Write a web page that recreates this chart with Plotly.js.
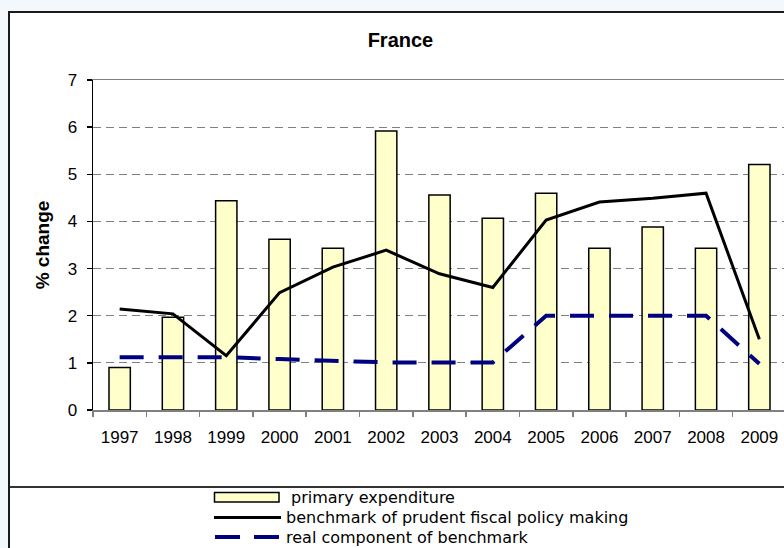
<!DOCTYPE html>
<html>
<head>
<meta charset="utf-8">
<script src="https://cdn.plot.ly/plotly-3.0.1.min.js"></script>
<style>
  html, body { margin: 0; padding: 0; width: 784px; height: 548px; overflow: hidden; background: #f3f8fd; }
  #frame { position: absolute; left: 8px; top: 11px; width: 800px; height: 560px;
           border-left: 2px solid #1a1a1a; border-top: 2px solid #1a1a1a; background: #ffffff; }
  #chart { position: absolute; left: 0; top: 0; }
  #divider { position: absolute; left: 0; top: 473px; width: 800px; border-top: 2px solid #333333; }
</style>
</head>
<body>
<div id="frame">
  <div id="chart"></div>
  <div id="divider"></div>
</div>
<script>
const years = ["1997","1998","1999","2000","2001","2002","2003","2004","2005","2006","2007","2008","2009"];
const primaryExpenditure = [0.90, 1.97, 4.44, 3.62, 3.43, 5.92, 4.56, 4.07, 4.60, 3.43, 3.88, 3.43, 5.21];
const benchmark = [2.14, 2.04, 1.15, 2.49, 3.03, 3.39, 2.89, 2.60, 4.03, 4.41, 4.49, 4.60, 1.50];
const realComponent = [1.12, 1.12, 1.12, 1.08, 1.04, 1.01, 1.01, 1.01, 2.00, 2.00, 2.00, 2.00, 0.98];
const yTicks = [0, 1, 2, 3, 4, 5, 6, 7];
const seriesNames = ["primary expenditure", "benchmark of prudent fiscal policy making", "real component of benchmark"];

const FONT = '"Liberation Sans", Arial, sans-serif';
const LEGFONT = '"DejaVu Sans", "Liberation Sans", sans-serif';
const M = { l: 83, r: 1, t: 67, b: 138 };
const DIVW = 777, DIVH = 535;
const PW = DIVW - M.l - M.r, PH = DIVH - M.t - M.b;
// page pixel -> paper fraction (frame content origin at page 10,13)
function fx(px) { return (px - 10 - M.l) / PW; }
function fy(py) { return 1 - (py - 13 - M.t) / PH; }

const traces = [
  { type: 'bar', x: years, y: primaryExpenditure, name: seriesNames[0],
    marker: { color: '#ffffcc', line: { color: '#000000', width: 1.5 } }, showlegend: false },
  { type: 'scatter', mode: 'lines', x: years, y: benchmark, name: seriesNames[1],
    line: { color: '#000000', width: 3 }, showlegend: false },
  { type: 'scatter', mode: 'lines', x: years, y: realComponent, name: seriesNames[2],
    line: { color: '#000080', width: 4, dash: '24px,15px' }, showlegend: false }
];

const ROW = [497, 517, 537];
const legendRows = [
  { text: seriesNames[0], x: 290, y: ROW[0] },
  { text: seriesNames[1], x: 285, y: ROW[1] },
  { text: seriesNames[2], x: 285, y: ROW[2] }
];

const annotations = legendRows.map(r => ({
  text: r.text, xref: 'paper', yref: 'paper', x: fx(r.x), y: fy(r.y),
  xanchor: 'left', yanchor: 'middle', showarrow: false, borderpad: 0,
  font: { family: LEGFONT, size: 16, color: '#000000' }
}));

const shapes = [
  { type: 'rect', xref: 'paper', yref: 'paper', x0: fx(214.5), x1: fx(279), y0: fy(ROW[0] + 5), y1: fy(ROW[0] - 4.5),
    fillcolor: '#ffffcc', line: { color: '#000000', width: 1.5 } },
  { type: 'line', xref: 'paper', yref: 'paper', x0: fx(214), x1: fx(281), y0: fy(ROW[1] + 0.5), y1: fy(ROW[1] + 0.5),
    line: { color: '#000000', width: 3 } },
  { type: 'line', xref: 'paper', yref: 'paper', x0: fx(215), x1: fx(240), y0: fy(ROW[2]), y1: fy(ROW[2]),
    line: { color: '#000080', width: 4 } },
  { type: 'line', xref: 'paper', yref: 'paper', x0: fx(254), x1: fx(279), y0: fy(ROW[2]), y1: fy(ROW[2]),
    line: { color: '#000080', width: 4 } }
];

const layout = {
  width: DIVW, height: DIVH,
  margin: M,
  paper_bgcolor: 'rgba(0,0,0,0)',
  plot_bgcolor: '#ffffff',
  font: { family: FONT, size: 17, color: '#000000' },
  title: { text: '<b>France</b>', font: { family: FONT, size: 20, color: '#000000' },
           xref: 'container', yref: 'container', x: 0.5025, xanchor: 'center', y: 1 - 27 / DIVH, yanchor: 'middle' },
  bargap: 0.6,
  showlegend: false,
  xaxis: {
    type: 'category', categoryorder: 'array', categoryarray: years,
    showline: true, linecolor: '#808080', linewidth: 1.5, mirror: true,
    ticks: 'outside', tickson: 'boundaries', ticklen: 5, tickcolor: '#808080', tickwidth: 1.5,
    ticklabelstandoff: 11,
    showgrid: false, zeroline: false,
    tickfont: { family: FONT, size: 17, color: '#000000' }
  },
  yaxis: {
    range: [0, 7], tickvals: yTicks, ticktext: yTicks.map(String),
    showline: true, linecolor: '#000000', linewidth: 1.3,
    ticks: 'outside', ticklen: 5, tickcolor: '#000000', tickwidth: 1.3,
    ticklabelstandoff: 6,
    showgrid: true, gridcolor: '#808080', gridwidth: 1, griddash: '8px,5px',
    zeroline: false,
    tickfont: { family: FONT, size: 17, color: '#000000' },
    title: { text: '<b>% change</b>', font: { family: FONT, size: 19, color: '#000000' }, standoff: 13 }
  },
  annotations: annotations,
  shapes: shapes
};

Plotly.newPlot('chart', traces, layout, { staticPlot: true, displayModeBar: false });
</script>
</body>
</html>
